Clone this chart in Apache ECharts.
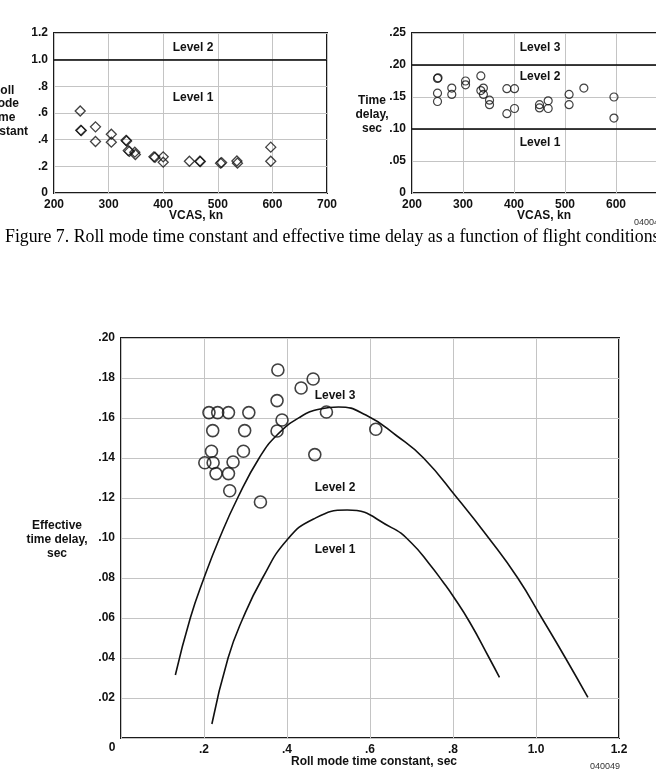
<!DOCTYPE html>
<html>
<head>
<meta charset="utf-8">
<script src="https://cdn.jsdelivr.net/npm/echarts@6.0.0/dist/echarts.min.js"></script>
<style>
  html, body { margin: 0; padding: 0; background: #fff; }
  #chart { width: 656px; height: 777px; }
</style>
</head>
<body>
<div id="chart"></div>
<script>
// roll mode time constant vs VCAS (diamonds)
const rollVcas = [248, 249, 250, 276, 276, 305, 305, 332, 333, 336, 338, 348, 349, 383, 385, 400, 400, 448, 467, 468, 505, 507, 535, 536, 597, 597];
const rollTau = [0.615, 0.47, 0.468, 0.496, 0.386, 0.441, 0.381, 0.395, 0.39, 0.318, 0.312, 0.306, 0.289, 0.271, 0.268, 0.271, 0.231, 0.238, 0.238, 0.236, 0.224, 0.228, 0.24, 0.224, 0.344, 0.238];
const rollLevels = [1.0];

// time delay vs VCAS (circles)
const delayVcas = [250, 251, 250, 250, 278, 278, 305, 305, 335, 335, 340, 340, 352, 352, 386, 401, 386, 401, 450, 450, 467, 467, 508, 508, 537, 596, 596];
const delaySec = [0.179, 0.18, 0.156, 0.143, 0.164, 0.154, 0.175, 0.169, 0.183, 0.16, 0.164, 0.154, 0.145, 0.138, 0.163, 0.163, 0.124, 0.132, 0.138, 0.133, 0.144, 0.132, 0.154, 0.138, 0.164, 0.15, 0.117];
const delayLevels = [0.20, 0.10];

// effective time delay vs roll mode time constant
const flightTau = [0.378, 0.434, 0.463, 0.376, 0.495, 0.388, 0.376, 0.467, 0.614, 0.336, 0.212, 0.233, 0.259, 0.308, 0.221, 0.298, 0.218, 0.295, 0.202, 0.222, 0.27, 0.229, 0.259, 0.262];
const flightDelay = [0.184, 0.175, 0.1795, 0.1687, 0.163, 0.159, 0.1535, 0.1417, 0.1544, 0.118, 0.1627, 0.1627, 0.1627, 0.1627, 0.1537, 0.1537, 0.1434, 0.1434, 0.1376, 0.1376, 0.138, 0.1322, 0.1322, 0.1236];

// level boundaries
const level3Tau = [0.131, 0.167, 0.2, 0.2376, 0.281, 0.333, 0.376, 0.432, 0.48, 0.524, 0.59, 0.665, 0.729, 0.81, 0.886, 0.956, 1.014, 1.071, 1.125];
const level3Delay = [0.0315, 0.06, 0.08, 0.10, 0.12, 0.14, 0.1515, 0.1605, 0.1645, 0.1655, 0.1615, 0.151, 0.14, 0.12, 0.10, 0.08, 0.06, 0.04, 0.0203];
const level2Tau = [0.219, 0.258, 0.294, 0.341, 0.4, 0.464, 0.545, 0.652, 0.7, 0.745, 0.776, 0.8, 0.84, 0.886, 0.912];
const level2Delay = [0.007, 0.04, 0.06, 0.08, 0.099, 0.1095, 0.114, 0.1052, 0.0975, 0.0865, 0.078, 0.071, 0.058, 0.0405, 0.0303];

const FONT = 'Liberation Sans, Arial, Helvetica, sans-serif';
const GRID_LINE = '#c4c4c4';
const FRAME = '#1b1b1b';

const zip = (xs, ys) => xs.map((x, i) => [x, ys[i]]);

// ".2" style labels, "0" and "1.0" kept
function tickFmt(digits) {
  return (v) => {
    if (Math.abs(v) < 1e-9) return '0';
    const s = v.toFixed(digits);
    return v < 1 ? s.replace(/^0/, '') : s;
  };
}

function valueAxis(gridIndex, min, max, interval, fmt) {
  return {
    type: 'value',
    gridIndex: gridIndex,
    min: min,
    max: max,
    interval: interval,
    axisLine: { show: false },
    axisTick: { show: false },
    splitLine: { show: true, lineStyle: { color: GRID_LINE, width: 1 } },
    axisLabel: {
      color: '#111',
      fontFamily: FONT,
      fontWeight: 'bold',
      fontSize: 12,
      margin: 6,
      formatter: fmt,
    },
  };
}

function levelLines(values) {
  return {
    symbol: 'none',
    silent: true,
    animation: false,
    label: { show: false },
    lineStyle: { color: '#000', width: 1.6, type: 'solid' },
    data: values.map((v) => ({ yAxis: v })),
  };
}

function txt(x, y, text, opts) {
  return {
    type: 'text',
    x: x,
    y: y,
    silent: true,
    style: Object.assign({
      text: text,
      fill: '#111',
      font: 'bold 12px ' + FONT,
      align: 'center',
      verticalAlign: 'middle',
      lineHeight: 14,
    }, opts || {}),
  };
}

function frame(left, top, width, height) {
  return {
    left: left, top: top, width: width, height: height,
    show: true, borderColor: FRAME, borderWidth: 2,
    backgroundColor: 'transparent',
    outerBoundsMode: 'none',
    containLabel: false,
  };
}

function boundary(name, xs, ys) {
  return {
    name: name,
    type: 'line',
    xAxisIndex: 2,
    yAxisIndex: 2,
    smooth: 0.5,
    showSymbol: false,
    silent: true,
    lineStyle: { color: '#111', width: 1.6 },
    data: zip(xs, ys),
    z: 2,
  };
}

const chart = echarts.init(document.getElementById('chart'), null, { renderer: 'canvas' });

const option = {
  animation: false,
  backgroundColor: '#fff',
  grid: [
    frame(54, 33, 273, 160),
    frame(412, 33, 255, 160),
    frame(121, 338, 498, 400),
  ],
  xAxis: [
    valueAxis(0, 200, 700, 100, (v) => String(v)),
    valueAxis(1, 200, 700, 100, (v) => String(v)),
    valueAxis(2, 0, 1.2, 0.2, (v) => (Math.abs(v) < 1e-9 ? '' : tickFmt(1)(v))),
  ],
  yAxis: [
    valueAxis(0, 0, 1.2, 0.2, tickFmt(1)),
    valueAxis(1, 0, 0.25, 0.05, tickFmt(2)),
    valueAxis(2, 0, 0.2, 0.02, (v) => (Math.abs(v) < 1e-9 ? '' : tickFmt(2)(v))),
  ],
  series: [
    {
      name: 'roll mode time constant',
      type: 'scatter',
      xAxisIndex: 0,
      yAxisIndex: 0,
      symbol: 'diamond',
      symbolSize: [10, 10],
      itemStyle: { color: 'rgba(0,0,0,0)', borderColor: '#111', borderWidth: 1.3 },
      data: zip(rollVcas, rollTau),
      markLine: levelLines(rollLevels),
      z: 3,
    },
    {
      name: 'time delay',
      type: 'scatter',
      xAxisIndex: 1,
      yAxisIndex: 1,
      symbol: 'circle',
      symbolSize: 8,
      itemStyle: { color: 'rgba(0,0,0,0)', borderColor: '#111', borderWidth: 1.2 },
      data: zip(delayVcas, delaySec),
      markLine: levelLines(delayLevels),
      z: 3,
    },
    boundary('level 3 boundary', level3Tau, level3Delay),
    boundary('level 2 boundary', level2Tau, level2Delay),
    {
      name: 'flight data',
      type: 'scatter',
      xAxisIndex: 2,
      yAxisIndex: 2,
      symbol: 'circle',
      symbolSize: 12,
      itemStyle: { color: 'rgba(0,0,0,0)', borderColor: '#111', borderWidth: 1.6 },
      data: zip(flightTau, flightDelay),
      z: 3,
    },
  ],
  graphic: [
    // top left
    txt(3, 111, 'Roll\nmode\ntime\nconstant', { lineHeight: 13.7 }),
    txt(193, 48, 'Level 2'),
    txt(193, 98, 'Level 1'),
    txt(196, 216, 'VCAS, kn'),
    // top right
    txt(372, 115, 'Time\ndelay,\nsec'),
    txt(540, 48, 'Level 3'),
    txt(540, 77, 'Level 2'),
    txt(540, 143, 'Level 1'),
    txt(544, 216, 'VCAS, kn'),
    txt(634, 223, '04004', { font: '9px ' + FONT, align: 'left', fill: '#333' }),
    // caption
    txt(5, 237, 'Figure 7. Roll mode time constant and effective time delay as a function of flight conditions.', {
      font: '17.8px Liberation Serif, Times New Roman, serif', align: 'left', fill: '#000',
    }),
    // bottom
    txt(57, 540, 'Effective\ntime delay,\nsec'),
    txt(335, 396, 'Level 3'),
    txt(335, 488, 'Level 2'),
    txt(335, 550, 'Level 1'),
    txt(112, 748, '0'),
    txt(374, 762, 'Roll mode time constant, sec'),
    txt(605, 767, '040049', { font: '9px ' + FONT, fill: '#333' }),
  ],
};

chart.setOption(option);
</script>
</body>
</html>
